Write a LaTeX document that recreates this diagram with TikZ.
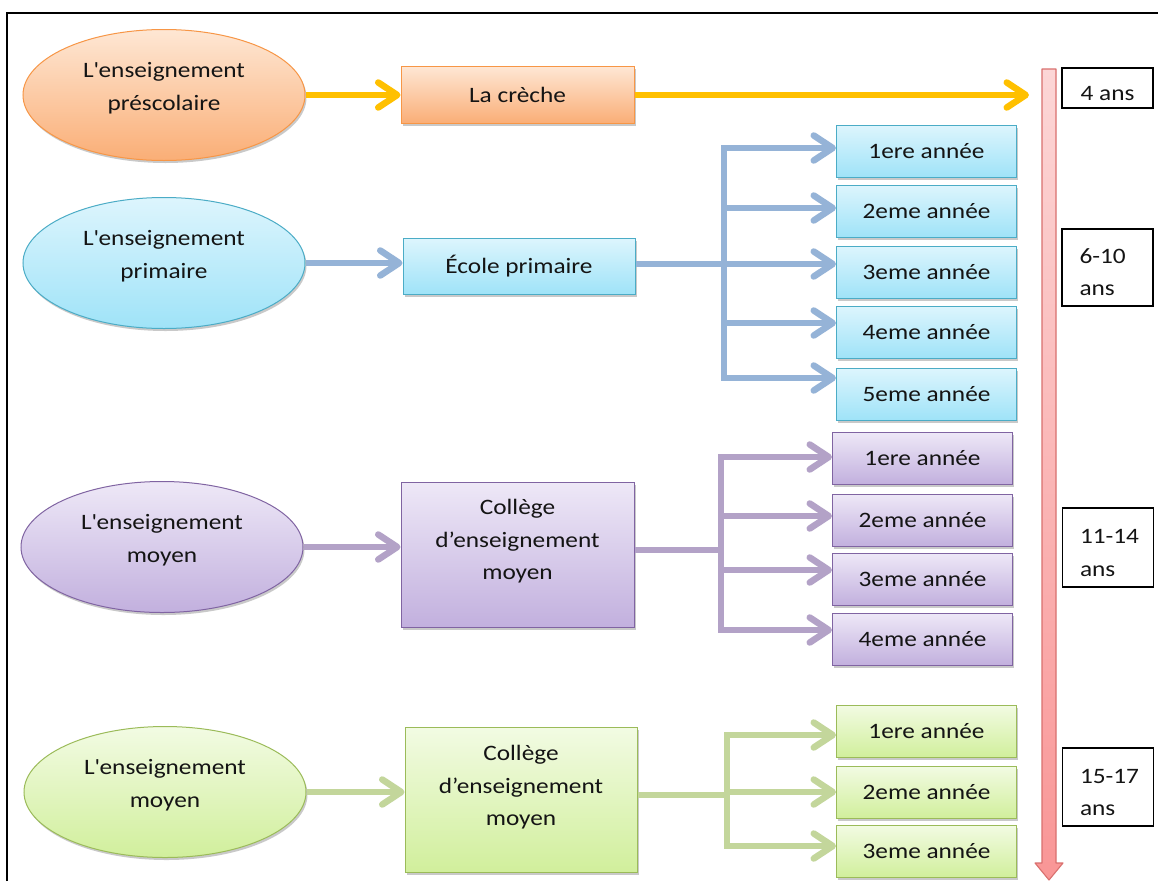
\documentclass[tikz,border=0pt]{standalone}
\usepackage{fontspec}
\setmainfont{Carlito}[FakeStretch=1.15]
\usetikzlibrary{arrows.meta,shapes.geometric,shadows}
\definecolor{orTop}{HTML}{FEE7D4}
\definecolor{orBot}{HTML}{FAAE76}
\definecolor{orLine}{HTML}{F79646}
\definecolor{yelArr}{HTML}{FFC000}
\definecolor{blTop}{HTML}{DDF5FD}
\definecolor{blBot}{HTML}{9FE3F8}
\definecolor{blLine}{HTML}{4BACC6}
\definecolor{blArr}{HTML}{95B3D7}
\definecolor{puTop}{HTML}{EEE8F7}
\definecolor{puBot}{HTML}{C2B0DE}
\definecolor{puLine}{HTML}{8064A2}
\definecolor{puArr}{HTML}{B3A2C7}
\definecolor{grTop}{HTML}{F2FBE3}
\definecolor{grBot}{HTML}{D1EF9C}
\definecolor{grLine}{HTML}{9BBB59}
\definecolor{grArr}{HTML}{C3D69B}
\definecolor{pkTop}{HTML}{FCD6D6}
\definecolor{pkBot}{HTML}{F99696}
\definecolor{pkLine}{HTML}{D9706E}
\definecolor{txt}{HTML}{141414}
\begin{document}
\begin{tikzpicture}[x=1pt,y=-1pt,
  every node/.style={font=\fontsize{22}{32.5}\selectfont, text=txt, inner sep=0pt},
  shad/.style={drop shadow={shadow xshift=1.5pt,shadow yshift=-2.5pt,opacity=0.35,fill=black!60}},
  ell/.style={ellipse, minimum width=282pt, minimum height=131pt, line width=1pt, shad},
  box/.style={rectangle, line width=1pt, shad},
  gbox/.style={box, minimum width=180pt, minimum height=52pt},
  etext/.style={align=center},
  orng/.style={draw=orLine, top color=orTop, bottom color=orBot},
  blu/.style={draw=blLine, top color=blTop, bottom color=blBot},
  purp/.style={draw=puLine, top color=puTop, bottom color=puBot},
  grn/.style={draw=grLine, top color=grTop, bottom color=grBot},
  agebox/.style={rectangle, draw=black, line width=1.3pt, fill=white, minimum width=91pt},
  agetwo/.style={agebox, text width=56pt, align=left, text height=24pt},
  arr/.style={line width=6.5pt, -{Straight Barb[length=19pt,width=25pt,round]}},
  trunk/.style={line width=6.5pt, line cap=rect},
]
\useasboundingbox (0,0) rectangle (1158,881);
\fill[white] (0,0) rectangle (1158,881);
\draw[line width=1.6pt] (7,881) -- (7,13) -- (1158,13);

% ---------- timeline arrow ----------
\path[draw=pkLine, line width=1.1pt, top color=pkTop, bottom color=pkBot, line join=round]
  (1042,69) -- (1056,69) -- (1056,863) -- (1063,863) -- (1049,880) -- (1035,863) -- (1042,863) -- cycle;

% ---------- age boxes ----------
\node[agebox, minimum height=40pt, text height=25pt, text depth=0pt] (a4) at (1107.5,88) {4 ans};
\node[agetwo, minimum height=77pt] (a6) at (1107.5,267.5) {\mbox{6-10}\\ans};
\node[agetwo, minimum height=79pt, text height=25pt] (a11) at (1108,547.5) {\mbox{11-14}\\ans};
\node[agetwo, minimum height=78pt, text height=25pt] (a15) at (1108,787) {\mbox{15-17}\\ans};

% ---------- préscolaire ----------
\node[ell, orng] (e1) at (164,95) {};
\node[etext] (t1) at ([yshift=7pt]e1.center) {L\textquotesingle enseignement\\préscolaire};
\node[box, orng, minimum width=233pt, minimum height=57pt] (creche) at (517.5,95) {La crèche};
\coordinate (yend) at (1029,95);
\draw[arr, yelArr] (e1.east) -- (e1.east -| creche.west);
\draw[arr, yelArr] (creche.east) -- (creche.east -| yend);

% ---------- primaire ----------
\node[ell, blu] (e2) at (164,263) {};
\node[etext] (t2) at ([yshift=7pt]e2.center) {L\textquotesingle enseignement\\primaire};
\node[box, blu, minimum width=232pt, minimum height=56pt] (ep) at (519,266) {École primaire};
\node[gbox, blu] (b1) at (926.5,151) {1ere année};
\node[gbox, blu] (b2) at (926.5,211) {2eme année};
\node[gbox, blu] (b3) at (926.5,272) {3eme année};
\node[gbox, blu] (b4) at (926.5,332) {4eme année};
\node[gbox, blu] (b5) at (926.5,394) {5eme année};
\coordinate (tb1) at (724,148);
\coordinate (tb2) at (724,208);
\coordinate (tb3) at (724,264);
\coordinate (tb4) at (724,323);
\coordinate (tb5) at (724,378);
\draw[arr, blArr] (e2.east) -- (e2.east -| ep.west);
\draw[trunk, blArr, line cap=butt] (ep.east |- tb3) -- (tb3);
\draw[trunk, blArr] (tb1) -- (tb5);
\foreach \i in {1,...,5} \draw[arr, blArr] (tb\i) -- (tb\i -| b\i.west);

% ---------- moyen ----------
\node[ell, purp] (e3) at (162,547) {};
\node[etext] (t3) at ([yshift=7pt]e3.center) {L\textquotesingle enseignement\\moyen};
\node[box, purp, minimum width=233pt, minimum height=145pt] (cm) at (517.5,554.5) {};
\node[etext] (tcm) at ([yshift=13pt]cm.center) {Collège\\d’enseignement\\moyen};
\node[gbox, purp] (p1) at (922.5,458) {1ere année};
\node[gbox, purp] (p2) at (922.5,520) {2eme année};
\node[gbox, purp] (p3) at (922.5,579) {3eme année};
\node[gbox, purp] (p4) at (922.5,639) {4eme année};
\coordinate (tp1) at (721,457);
\coordinate (tp2) at (721,516);
\coordinate (tp0) at (721,550);
\coordinate (tp3) at (721,570);
\coordinate (tp4) at (721,630);
\draw[arr, puArr] (e3.east) -- (e3.east -| cm.west);
\draw[trunk, puArr, line cap=butt] (cm.east |- tp0) -- (tp0);
\draw[trunk, puArr] (tp1) -- (tp4);
\foreach \i in {1,...,4} \draw[arr, puArr] (tp\i) -- (tp\i -| p\i.west);

% ---------- secondaire ----------
\node[ell, grn] (e4) at (165,792) {};
\node[etext] (t4) at ([yshift=7pt]e4.center) {L\textquotesingle enseignement\\moyen};
\node[box, grn, minimum width=232pt, minimum height=145pt] (cs) at (521,799.5) {};
\node[etext] (tcs) at ([yshift=12pt]cs.center) {Collège\\d’enseignement\\moyen};
\node[gbox, grn] (g1) at (926.5,731) {1ere année};
\node[gbox, grn] (g2) at (926.5,792) {2eme année};
\node[gbox, grn] (g3) at (926.5,851) {3eme année};
\coordinate (tg1) at (727,735);
\coordinate (tg2) at (727,792);
\coordinate (tg0) at (727,795);
\coordinate (tg3) at (727,846);
\draw[arr, grArr] (e4.east) -- (e4.east -| cs.west);
\draw[trunk, grArr, line cap=butt] (cs.east |- tg0) -- (tg0);
\draw[trunk, grArr] (tg1) -- (tg3);
\foreach \i in {1,...,3} \draw[arr, grArr] (tg\i) -- (tg\i -| g\i.west);
\end{tikzpicture}
\end{document}
